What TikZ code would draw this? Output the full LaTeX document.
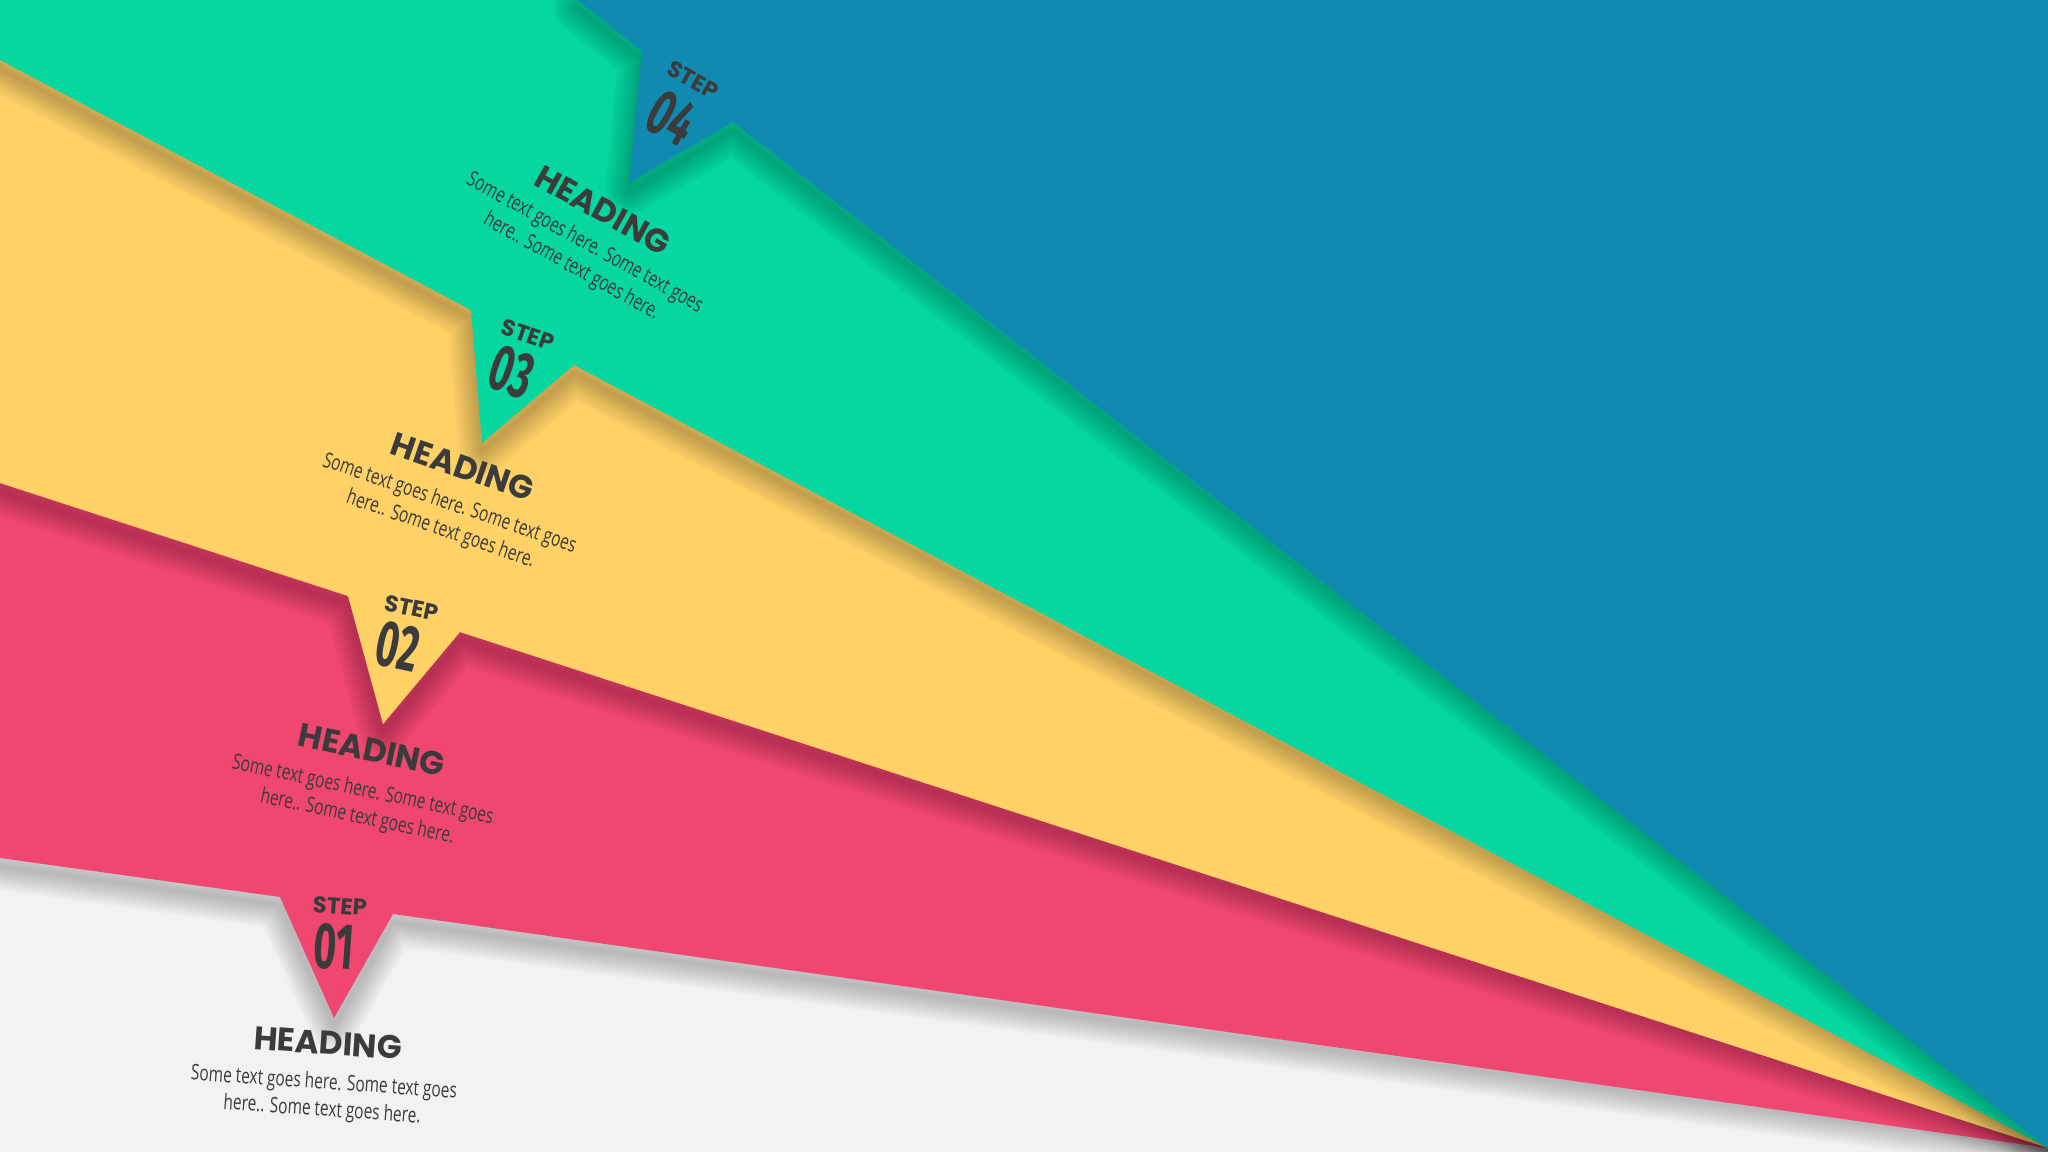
\documentclass[tikz,border=0pt]{standalone}
\usepackage{fontspec}
\newfontfamily\headfont{Poppins}
\newfontfamily\bodyfont[FakeStretch=0.72]{Open Sans}
\newfontfamily\numfont[FakeStretch=0.6]{Fira Sans}
\definecolor{stepblue}{HTML}{118AB2}
\definecolor{stepgreen}{HTML}{06D6A0}
\definecolor{stepyellow}{HTML}{FFD166}
\definecolor{steppink}{HTML}{EF476F}
\definecolor{paper}{HTML}{F2F2F2}
\definecolor{ink}{HTML}{3B3B3B}
\tikzset{
    shade edge/.style={draw=black,line join=round,line cap=round,opacity=0.02,shift={(0,8)}},
    steplabel/.style={text=ink,font=\headfont\fontsize{6.5}{7}\selectfont\bfseries},
    stepnum/.style={text=ink,font=\numfont\fontsize{18.5}{18}\selectfont\bfseries},
    heading/.style={text=ink,font=\headfont\fontsize{9.3}{10}\selectfont\bfseries},
    stepbody/.style={text=ink,align=center,font=\bodyfont\fontsize{6.1}{7.7}\selectfont}
}
\begin{document}
\begin{tikzpicture}[x=0.01cm,y=-0.01cm]
    \useasboundingbox (0,0) rectangle (2048,1152);
    \fill[paper] (0,0) rectangle (2048,1152);
    \coordinate (V) at (2048,1148);
    % band 1 (pink)
    \foreach \w in {4,8,...,48}
        \draw[shade edge,line width=\w*0.1mm] (0,858) -- (280,897) -- (334,1018) -- (393,914) -- (V);
    \fill[steppink] (0,858) -- (280,897) -- (334,1018) -- (393,914) -- (V) -- (2048,0) -- (0,0) -- cycle;
    % band 2 (yellow)
    \foreach \w in {4,8,...,48}
        \draw[shade edge,line width=\w*0.1mm] (0,483) -- (348,596) -- (383,724) -- (460,632) -- (V);
    \fill[stepyellow] (0,483) -- (348,596) -- (383,724) -- (460,632) -- (V) -- (2048,0) -- (0,0) -- cycle;
    % band 3 (green)
    \foreach \w in {4,8,...,48}
        \draw[shade edge,line width=\w*0.1mm] (0,60) -- (471,310) -- (482,443) -- (574,365) -- (V);
    \fill[stepgreen] (0,60) -- (471,310) -- (482,443) -- (574,365) -- (V) -- (2048,0) -- (0,0) -- cycle;
    % band 4 (blue)
    \foreach \w in {4,8,...,48}
        \draw[shade edge,line width=\w*0.1mm] (577,0) -- (642,51) -- (629,183) -- (733,122) -- (V);
    \fill[stepblue] (577,0) -- (642,51) -- (629,183) -- (733,122) -- (V) -- (2048,0) -- cycle;

    % step 1
    \node[steplabel,rotate=-4] (step1) at (340,906) {STEP};
    \node[stepnum,rotate=-4] (num1) at (334,947) {01};
    \node[heading,rotate=-4] (head1) at (328,1043) {HEADING};
    \node[stepbody,rotate=-4] (body1) at (323,1097) {Some text goes here. Some text goes\\here.. Some text goes here.};
    % step 2
    \node[steplabel,rotate=-12] (step2) at (412,608) {STEP};
    \node[stepnum,rotate=-12] (num2) at (398,647) {02};
    \node[heading,rotate=-12] (head2) at (372,750) {HEADING};
    \node[stepbody,rotate=-12] (body2) at (360,804) {Some text goes here. Some text goes\\here.. Some text goes here.};
    % step 3
    \node[steplabel,rotate=-19] (step3) at (528,335) {STEP};
    \node[stepnum,rotate=-19] (num3) at (512,372) {03};
    \node[heading,rotate=-19] (head3) at (463,467) {HEADING};
    \node[stepbody,rotate=-19] (body3) at (445,517) {Some text goes here. Some text goes\\here.. Some text goes here.};
    % step 4
    \node[steplabel,rotate=-29] (step4) at (693,80) {STEP};
    \node[stepnum,rotate=-29] (num4) at (672,118) {04};
    \node[heading,rotate=-29] (head4) at (603,210) {HEADING};
    \node[stepbody,rotate=-29] (body4) at (578,255) {Some text goes here. Some text goes\\here.. Some text goes here.};
\end{tikzpicture}
\end{document}
